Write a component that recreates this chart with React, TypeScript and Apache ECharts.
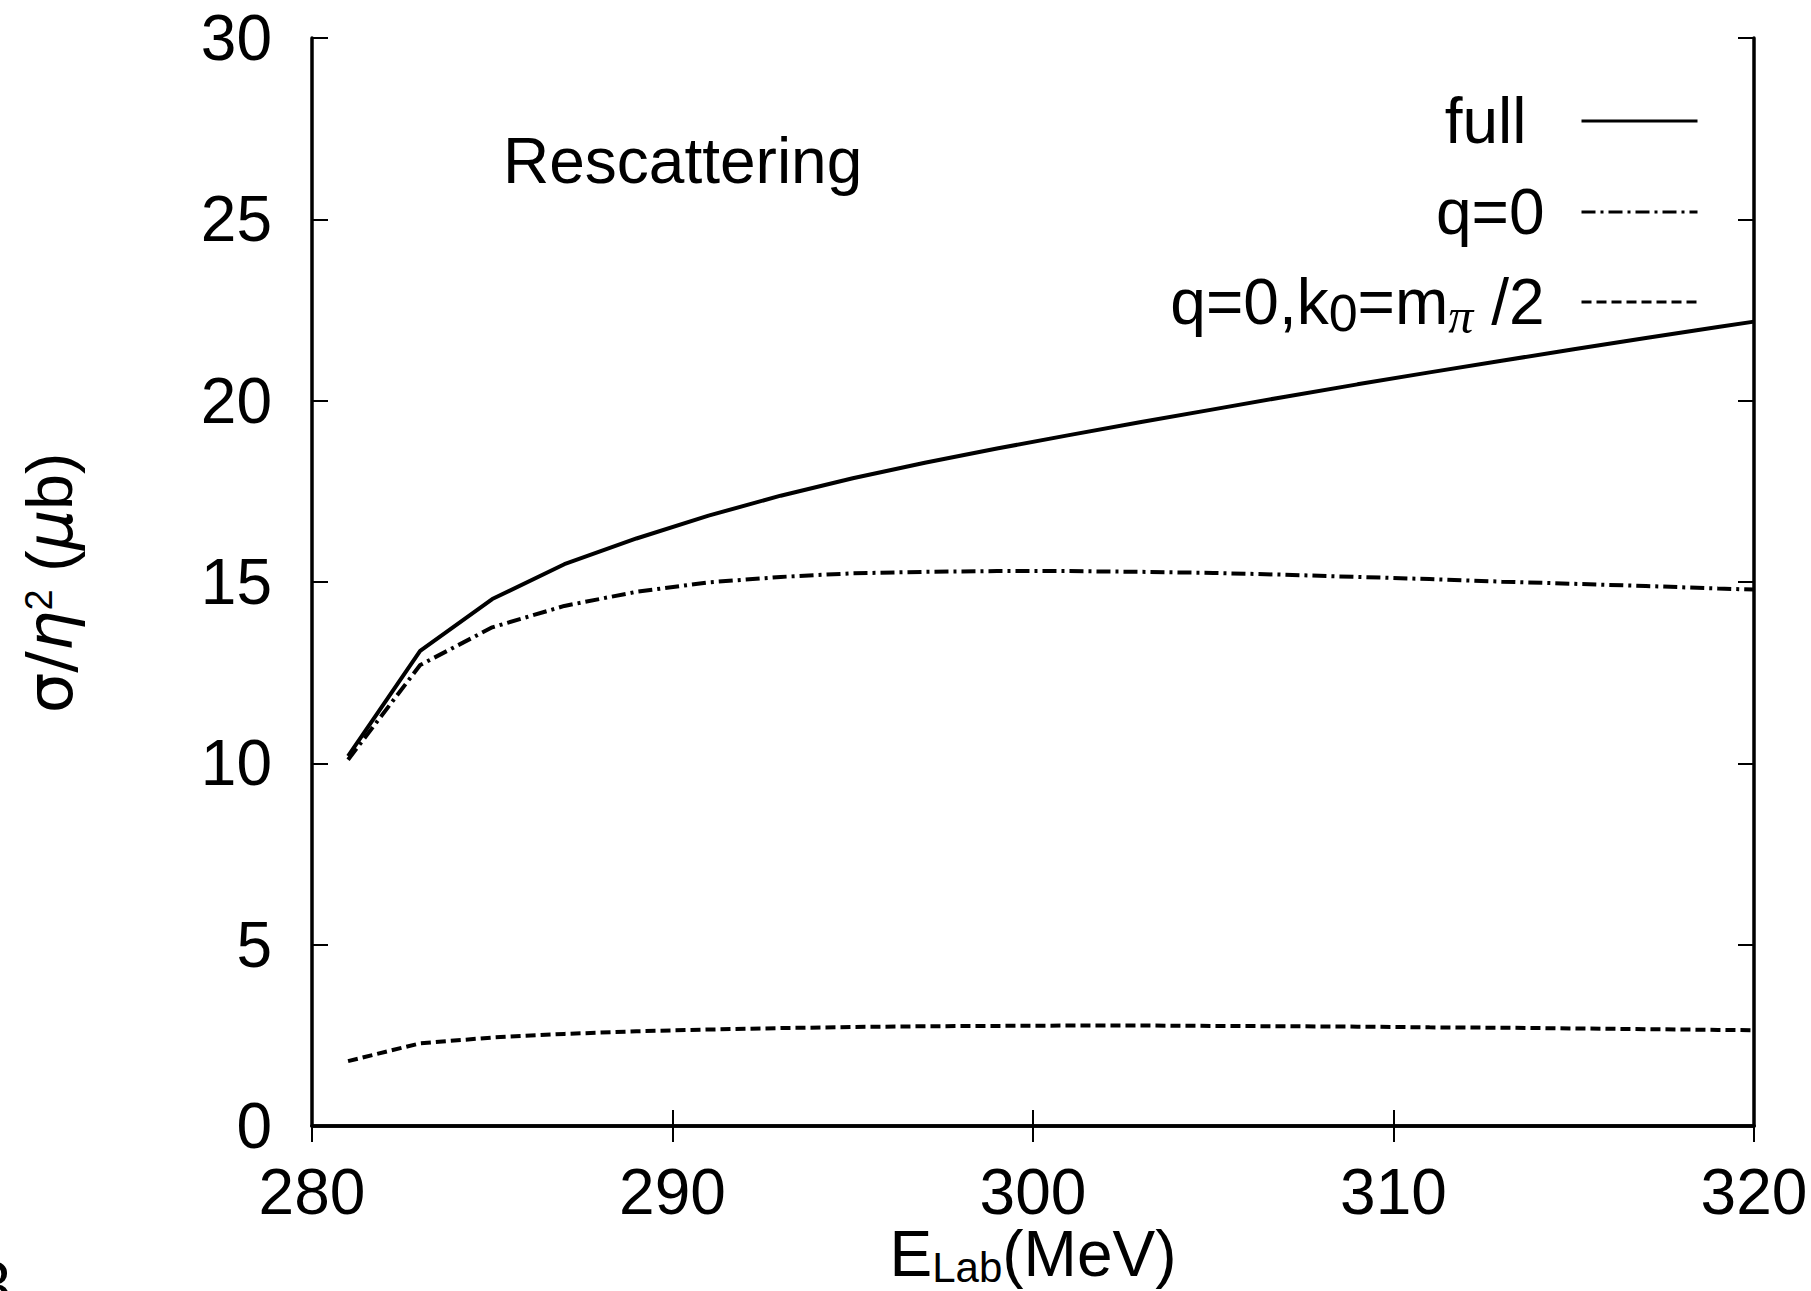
import React, { useEffect, useRef } from 'react';
import * as echarts from 'echarts';

// ---- data ----
const energies = [281, 283, 285, 287, 289, 291, 293, 295, 297, 299, 301, 303, 305, 307, 309, 311, 313, 315, 317, 319, 320];
const fullValues = [10.2, 13.1, 14.53, 15.49, 16.2, 16.83, 17.38, 17.86, 18.29, 18.68, 19.05, 19.41, 19.76, 20.11, 20.45, 20.78, 21.1, 21.42, 21.73, 22.03, 22.18];
const q0Values = [10.1, 12.71, 13.75, 14.34, 14.73, 14.99, 15.14, 15.24, 15.28, 15.3, 15.3, 15.28, 15.25, 15.2, 15.14, 15.08, 15.01, 14.95, 14.89, 14.82, 14.79];
const k0Values = [1.79, 2.28, 2.44, 2.54, 2.61, 2.66, 2.7, 2.73, 2.75, 2.76, 2.77, 2.77, 2.76, 2.75, 2.74, 2.72, 2.71, 2.69, 2.67, 2.65, 2.64];

const xMin = 280;
const xMax = 320;
const xStep = 10;
const yMin = 0;
const yMax = 30;
const yStep = 5;

const seriesNames = ['full', 'q=0', 'q=0,k0=mπ /2'];
const legendLabels = ['full', 'q=0', 'q=0,k{sub|0}=m{pi|π} /2'];
const lineTypes: any[] = ['solid', [14, 5, 3, 5], [10, 5]];
const seriesValues = [fullValues, q0Values, k0Values];

const SANS = '"Liberation Sans", Arial, Helvetica, sans-serif';
const SERIF = '"Liberation Serif", "Times New Roman", serif';
const GREEK = '"DejaVu Sans", "Liberation Sans", sans-serif';
const FS = 64;

export default function App() {
  const ref = useRef<HTMLDivElement>(null);

  useEffect(() => {
    if (!ref.current) return;
    const chart = echarts.init(ref.current, undefined, { renderer: 'svg' });

    const axisCommon = {
      type: 'value' as const,
      axisLine: { show: true, lineStyle: { color: '#000', width: 3.5 } },
      axisTick: { show: true, inside: true, length: 16, lineStyle: { color: '#000', width: 2 } },
      splitLine: { show: false },
    };

    const legendTops = [89, 180, 270];
    const legendPads = [[0, 50, 0, 0], [0, 32, 0, 0], [0, 32, 0, 0]];

    const option: any = {
      animation: false,
      backgroundColor: '#fff',
      grid: { left: 312, top: 38, right: 57, bottom: 165, containLabel: false },
      xAxis: [
        {
          ...axisCommon,
          position: 'bottom',
          min: xMin,
          max: xMax,
          interval: xStep,
          axisLabel: { show: true, margin: 36, fontSize: FS, lineHeight: 60, fontFamily: SANS, color: '#000' },
        },
        {
          ...axisCommon,
          position: 'top',
          min: xMin,
          max: xMax,
          interval: xStep,
          axisLabel: { show: false },
        },
      ],
      yAxis: [
        {
          ...axisCommon,
          position: 'left',
          min: yMin,
          max: yMax,
          interval: yStep,
          axisLabel: { show: true, margin: 40, fontSize: FS, fontFamily: SANS, color: '#000' },
        },
        {
          ...axisCommon,
          position: 'right',
          min: yMin,
          max: yMax,
          interval: yStep,
          axisLabel: { show: false },
        },
      ],
      legend: seriesNames.map((name, i) => ({
        data: [name],
        right: 112,
        top: legendTops[i],
        orient: 'vertical',
        align: 'right',
        itemWidth: 116,
        itemHeight: 14,
        itemGap: 0,
        padding: 0,
        selectedMode: false,
        itemStyle: { opacity: 0, borderWidth: 0 },
        lineStyle: { width: 3 },
        formatter: () => legendLabels[i],
        textStyle: {
          fontSize: FS,
          lineHeight: 60,
          fontFamily: SANS,
          color: '#000',
          padding: legendPads[i],
          rich: {
            sub: { fontSize: 52, lineHeight: 60, verticalAlign: 'top', padding: [15, 0, 0, 0], fontFamily: SANS, color: '#000' },
            pi: { fontSize: 50, lineHeight: 60, verticalAlign: 'top', padding: [19, 0, 0, 0], fontFamily: SERIF, fontStyle: 'italic', color: '#000' },
          },
        },
      })),
      series: seriesNames.map((name, i) => ({
        type: 'line',
        name,
        xAxisIndex: 0,
        yAxisIndex: 0,
        data: energies.map((e, j) => [e, seriesValues[i][j]]),
        symbol: 'none',
        showSymbol: false,
        lineStyle: { color: '#000', width: 4, type: lineTypes[i] },
        itemStyle: { color: '#000' },
        emphasis: { disabled: true },
      })),
      graphic: [
        {
          type: 'text',
          x: 503,
          y: 161,
          silent: true,
          style: {
            text: 'Rescattering',
            fontSize: FS,
            fontFamily: SANS,
            fill: '#000',
            align: 'left',
            verticalAlign: 'middle',
          },
        },
        {
          type: 'text',
          x: 1033,
          y: 1254,
          silent: true,
          style: {
            text: 'E{sub|Lab}(MeV)',
            fontSize: FS,
            lineHeight: 50,
            fontFamily: SANS,
            fill: '#000',
            align: 'center',
            verticalAlign: 'middle',
            rich: {
              sub: { fontSize: 42, lineHeight: 50, verticalAlign: 'top', padding: [17, 0, 0, 0], fontFamily: SANS, fill: '#000' },
            },
          },
        },
        {
          type: 'text',
          x: 50,
          y: 583,
          rotation: Math.PI / 2,
          silent: true,
          style: {
            text: '{g|σ/}{it|η}{sup|2} ({it|μ}b)',
            fontSize: FS,
            lineHeight: 60,
            fontFamily: SANS,
            fill: '#000',
            align: 'center',
            verticalAlign: 'middle',
            rich: {
              g: { fontSize: FS, lineHeight: 60, fontFamily: GREEK, fill: '#000' },
              it: { fontSize: FS, lineHeight: 60, fontFamily: GREEK, fontStyle: 'italic', fill: '#000' },
              sup: { fontSize: 38, lineHeight: 60, verticalAlign: 'top', fontFamily: SANS, fill: '#000' },
            },
          },
        },
        {
          type: 'text',
          x: 11,
          y: 1285,
          silent: true,
          style: {
            text: '3',
            fontSize: FS,
            fontFamily: SANS,
            fill: '#000',
            align: 'right',
            verticalAlign: 'middle',
          },
        },
      ],
    };

    chart.setOption(option);
    return () => chart.dispose();
  }, []);

  return (
    <div
      ref={ref}
      style={{ position: 'fixed', left: 0, top: 0, width: 1811, height: 1291, background: '#fff' }}
    />
  );
}
